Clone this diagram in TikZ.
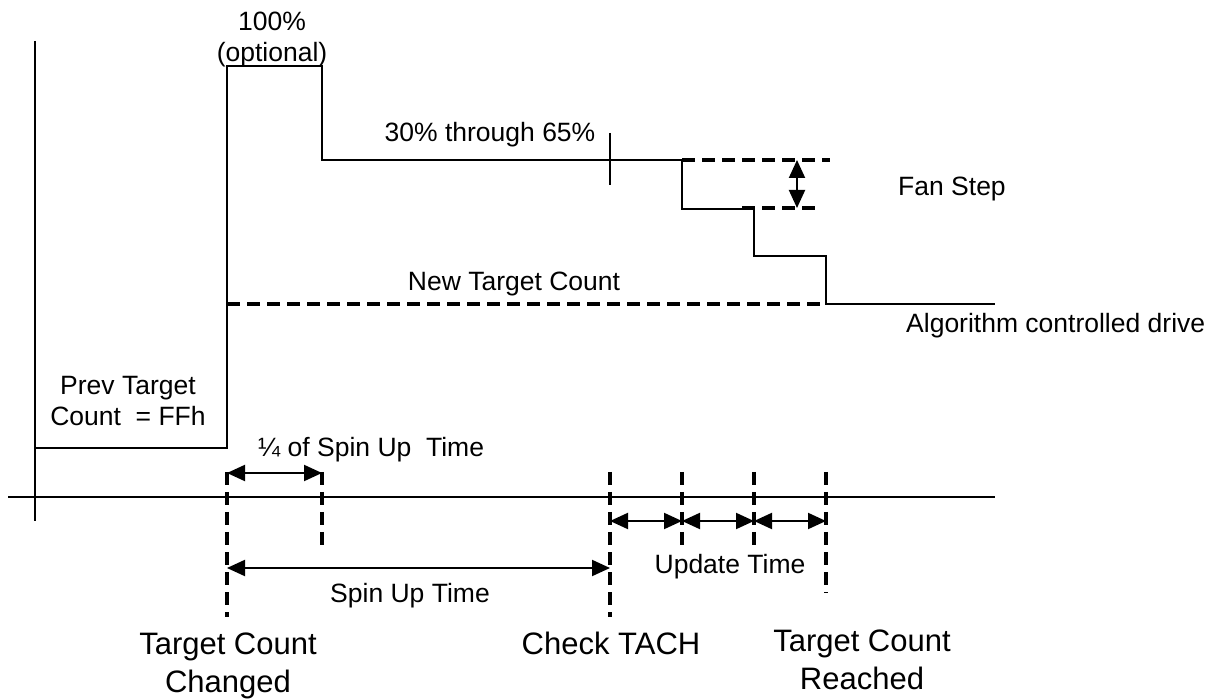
\documentclass[tikz,border=0pt]{standalone}
\usepackage{fontspec}
\setmainfont{Liberation Sans}
\usetikzlibrary{arrows.meta}
\tikzset{
  solidln/.style={line width=2pt},
  dashln/.style={line width=3.2pt, dash pattern=on 13pt off 7pt},
  dimarrow/.style={line width=2pt, {Triangle[length=18pt,width=16pt]}-{Triangle[length=18pt,width=16pt]}},
  lbl/.style={inner sep=0pt, font=\fontsize{26.5}{31}\selectfont},
  biglbl/.style={inner sep=0pt, font=\fontsize{31}{37}\selectfont, anchor=base},
}
\begin{document}
\begin{tikzpicture}[x=1pt,y=-1pt]
\useasboundingbox (0,0) rectangle (1211,700);
% axes
\coordinate (yTop) at (35,41);
\coordinate (yBot) at (35,521);
\coordinate (xL) at (8,497);
\coordinate (xR) at (995,497);
\draw[solidln] (yTop) -- (yBot);
\draw[solidln] (xL) -- (xR);
% waveform
\coordinate (w0) at (35,448);
\coordinate (w1) at (227,66);
\coordinate (w2) at (322,160);
\coordinate (w3) at (682,209);
\coordinate (w4) at (754,256);
\coordinate (w5) at (826,304);
\coordinate (w6) at (995,304);
\draw[solidln] (w0) -| (w1) -| (w2) -| (w3) -| (w4) -| (w5) -- (w6);
% tick on 30-65% level
\coordinate (tkT) at (610,133);
\coordinate (tkB) at (610,185);
\draw[solidln] (tkT) -- (tkB);
% fan step dashed levels and arrow
\coordinate (fsA) at (682,160);
\coordinate (fsB) at (830,160);
\coordinate (fsC) at (742,208);
\coordinate (fsD) at (815,208);
\draw[dashln] (fsA) -- (fsB);
\draw[dashln] (fsC) -- (fsD);
\coordinate (faT) at (797,160);
\coordinate (faB) at (797,208);
\draw[dimarrow] (faT) -- (faB);
% new target count dashed
\coordinate (ntA) at (227,304);
\coordinate (ntB) at (826,304);
\draw[dashln] (ntA) -- (ntB);
% time markers
\coordinate (t0a) at (227,472); \coordinate (t0b) at (227,617);
\coordinate (t1a) at (322,472); \coordinate (t1b) at (322,545);
\coordinate (t2a) at (610,472); \coordinate (t2b) at (610,617);
\coordinate (t3a) at (682,472); \coordinate (t3b) at (682,545);
\coordinate (t4a) at (754,472); \coordinate (t4b) at (754,545);
\coordinate (t5a) at (826,472); \coordinate (t5b) at (826,593);
\foreach \t in {t0,t1,t2,t3,t4,t5}{\draw[dashln] (\t a) -- (\t b);}
% dimension arrows
\coordinate (qa) at (227,473); \coordinate (qb) at (322,473);
\draw[dimarrow] (qa) -- (qb);
\coordinate (sa) at (227,568); \coordinate (sb) at (610,568);
\draw[dimarrow] (sa) -- (sb);
\coordinate (u0) at (610,521); \coordinate (u1) at (682,521);
\coordinate (u2) at (754,521); \coordinate (u3) at (826,521);
\draw[dimarrow] (u0) -- (u1);
\draw[dimarrow] (u1) -- (u2);
\draw[dimarrow] (u2) -- (u3);
% labels
\node[lbl, anchor=base] (p100) at (272,31) {100\%};
\node[lbl, anchor=base] (popt) at (272,62) {(optional)};
\node[lbl, anchor=base] (p3065) at (490,142) {30\% through 65\%};
\node[lbl, anchor=base west] (fanstep) at (898,196) {Fan Step};
\node[lbl, anchor=base] (newtc) at (514,291) {New Target Count};
\node[lbl, anchor=base west] (algo) at (906,333) {Algorithm controlled drive};
\node[lbl, anchor=base] (prev1) at (128,395) {Prev Target};
\node[lbl, anchor=base] (prev2) at (128,426) {Count\ \ = FFh};
\node[lbl, anchor=base west] (quarter) at (258,457) {¼ of Spin Up\ \ Time};
\node[lbl, anchor=base] (spinup) at (410,602) {Spin Up Time};
\node[lbl, anchor=base] (update) at (730,573) {Update Time};
\node[biglbl] (tcc1) at (228,654) {Target Count};
\node[biglbl] (tcc2) at (228,692) {Changed};
\node[biglbl] (chk) at (611,654) {Check TACH};
\node[biglbl] (tcr1) at (862,651) {Target Count};
\node[biglbl] (tcr2) at (862,689) {Reached};
\end{tikzpicture}
\end{document}
